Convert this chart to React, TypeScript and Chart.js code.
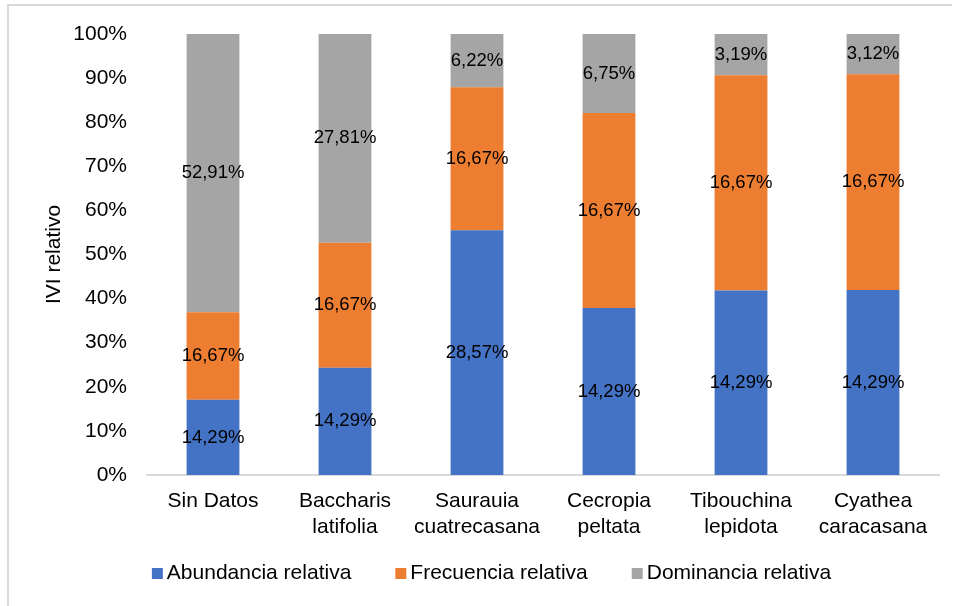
import React, { useEffect, useRef } from "react";
import { Chart, registerables } from "chart.js";

Chart.register(...registerables);

const categories: string[][] = [
  ["Sin Datos"],
  ["Baccharis", "latifolia"],
  ["Saurauia", "cuatrecasana"],
  ["Cecropia", "peltata"],
  ["Tibouchina", "lepidota"],
  ["Cyathea", "caracasana"],
];
const abundancia = [14.29, 14.29, 28.57, 14.29, 14.29, 14.29];
const frecuencia = [16.67, 16.67, 16.67, 16.67, 16.67, 16.67];
const dominancia = [52.91, 27.81, 6.22, 6.75, 3.19, 3.12];
const seriesNames = ["Abundancia relativa", "Frecuencia relativa", "Dominancia relativa"];
const seriesColors = ["#4472C4", "#ED7D31", "#A5A5A5"];
const yAxisTitle = "IVI relativo";

const FONT = "'Liberation Sans', Arial, sans-serif";

export default function App() {
  const ref = useRef<HTMLCanvasElement | null>(null);

  useEffect(() => {
    if (!ref.current) return;
    const raw = [abundancia, frecuencia, dominancia];
    const totals = categories.map((_, i) => raw.reduce((s, arr) => s + arr[i], 0));
    const shares = raw.map((arr) => arr.map((v, i) => (v / totals[i]) * 100));

    const borderPlugin = {
      id: "frame",
      beforeDraw(chart: any) {
        const ctx = chart.ctx;
        ctx.save();
        ctx.fillStyle = "#ffffff";
        ctx.fillRect(0, 0, chart.width, chart.height);
        ctx.strokeStyle = "#d9d9d9";
        ctx.lineWidth = 2;
        ctx.beginPath();
        ctx.moveTo(8, chart.height + 5);
        ctx.lineTo(8, 5);
        ctx.lineTo(952, 5);
        ctx.stroke();
        ctx.restore();
      },
    };

    const labelPlugin = {
      id: "segLabels",
      afterDatasetsDraw(chart: any) {
        const ctx = chart.ctx;
        ctx.save();
        ctx.font = `18.5px ${FONT}`;
        ctx.fillStyle = "#000000";
        ctx.textAlign = "center";
        ctx.textBaseline = "middle";
        chart.data.datasets.forEach((ds: any, di: number) => {
          const meta = chart.getDatasetMeta(di);
          meta.data.forEach((el: any, i: number) => {
            const p = el.getProps(["x", "y", "base"], true);
            const v = ds.rawValues[i];
            const txt = v.toFixed(2).replace(".", ",") + "%";
            ctx.fillText(txt, p.x, (p.y + p.base) / 2);
          });
        });
        ctx.restore();
      },
    };

    const legendPlugin = {
      id: "customLegend",
      afterDraw(chart: any) {
        const ctx = chart.ctx;
        ctx.save();
        ctx.font = `21px ${FONT}`;
        ctx.textBaseline = "middle";
        ctx.textAlign = "left";
        const box = 11;
        const gapBox = 4;
        const gapItem = 44;
        const items = chart.data.datasets.map((ds: any) => ({
          text: ds.label,
          color: ds.backgroundColor,
          w: box + gapBox + ctx.measureText(ds.label).width,
        }));
        const total = items.reduce((s: number, it: any) => s + it.w, 0) + gapItem * (items.length - 1);
        let x = 491.5 - total / 2;
        const cy = 573.5;
        items.forEach((it: any) => {
          ctx.fillStyle = it.color;
          ctx.fillRect(x, cy - box / 2, box, box);
          ctx.fillStyle = "#000000";
          ctx.fillText(it.text, x + box + gapBox, cy);
          x += it.w + gapItem;
        });
        ctx.restore();
      },
    };

    const chart = new Chart(ref.current, {
      type: "bar",
      data: {
        labels: categories,
        datasets: seriesNames.map((name, k) => ({
          label: name,
          data: shares[k],
          rawValues: raw[k],
          backgroundColor: seriesColors[k],
          borderWidth: 0,
          barPercentage: 0.4,
          categoryPercentage: 1,
        })) as any,
      },
      options: {
        responsive: false,
        animation: false,
        layout: { padding: { top: 34, right: 17, bottom: 56, left: 0 } },
        plugins: {
          legend: { display: false },
          tooltip: { enabled: false },
        },
        scales: {
          x: {
            stacked: true,
            grid: { display: false, drawTicks: false },
            border: { display: true, color: "#d9d9d9", width: 2 },
            ticks: {
              color: "#000000",
              font: { family: FONT, size: 21, lineHeight: 1.2 },
              padding: 14,
              maxRotation: 0,
              autoSkip: false,
            },
            afterFit(scale: any) {
              scale.height = 75;
            },
          },
          y: {
            stacked: true,
            min: 0,
            max: 100,
            grid: { display: false, drawTicks: false },
            border: { display: false },
            ticks: {
              stepSize: 10,
              color: "#000000",
              font: { family: FONT, size: 21 },
              padding: 20,
              callback: (v: any) => `${v}%`,
            },
            title: {
              display: true,
              text: yAxisTitle,
              color: "#000000",
              font: { family: FONT, size: 21, lineHeight: 1.2 },
              padding: { top: 42, bottom: 0 },
            },
            afterFit(scale: any) {
              scale.width = 147;
            },
          },
        },
      },
      plugins: [borderPlugin, labelPlugin, legendPlugin],
    });
    return () => chart.destroy();
  }, []);

  return (
    <div style={{ position: "absolute", left: 0, top: 0, width: 956, height: 606, background: "#fff" }}>
      <canvas ref={ref} width={956} height={606} style={{ display: "block" }} />
    </div>
  );
}
